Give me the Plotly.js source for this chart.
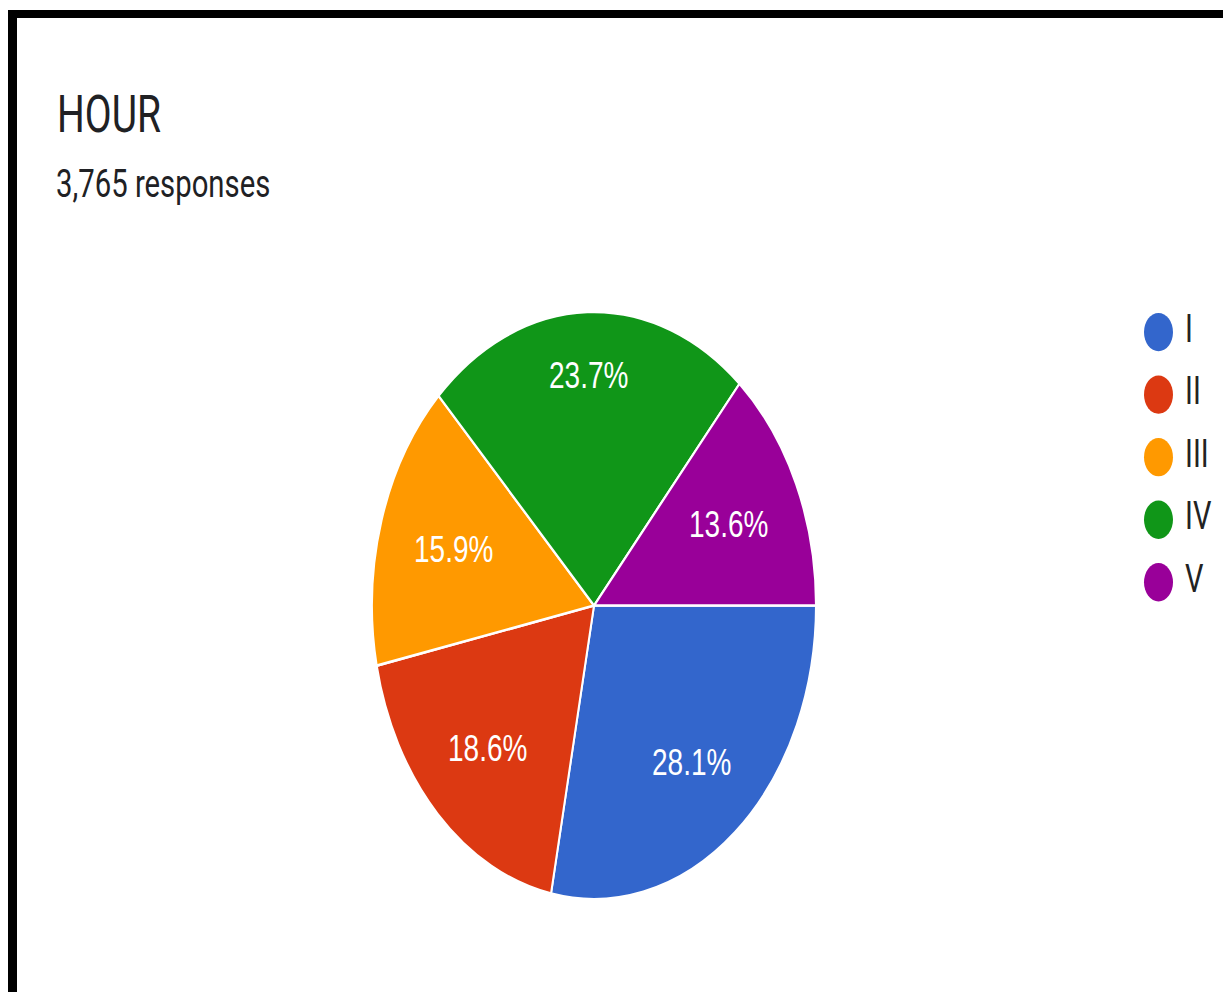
<!DOCTYPE html>
<html>
<head>
<meta charset="utf-8">
<script src="https://cdn.plot.ly/plotly-3.0.1.min.js"></script>
<style>
  html, body { margin: 0; padding: 0; background: #ffffff; width: 1223px; height: 992px; overflow: hidden; }
  #frameTop { position: absolute; left: 8px; top: 10px; width: 1215px; height: 8px; background: #000; }
  #frameLeft { position: absolute; left: 8px; top: 10px; width: 9px; height: 982px; background: #000; }
  #chart { position: absolute; left: 0; top: 0; width: 1223px; height: 750px;
           transform: scaleY(1.3227); transform-origin: 0 0; }
</style>
</head>
<body>
<div id="chart"></div>
<div id="frameTop"></div>
<div id="frameLeft"></div>
<script>
// ---- data ----
const categories = ["I", "II", "III", "IV", "V"];
const responses = [1058, 701, 600, 893, 513];   // total 3,765
const sliceColors = ["#3366cc", "#dc3912", "#ff9900", "#109618", "#990099"];
const chartTitle = "HOUR";
const subtitle = "3,765 responses";

const W = 1223, H = 750;

// pie placement (pixels in the unscaled chart)
const pieCx = 594, pieCy = 457.8, pieR = 222;

const pie = {
  type: "pie",
  labels: categories,
  values: responses,
  sort: false,
  direction: "clockwise",
  rotation: 90,
  marker: { colors: sliceColors, line: { color: "#ffffff", width: 2 } },
  textinfo: "none",
  domain: { x: [(pieCx - pieR) / W, (pieCx + pieR) / W],
            y: [1 - (pieCy + pieR) / H, 1 - (pieCy - pieR) / H] },
  showlegend: false,
  hoverinfo: "label+value+percent"
};

// slice labels, placed Google-Charts style: the label box's outer edge
// sits at a fixed distance from the centre along the slice's mid-angle
const total = responses.reduce((a, b) => a + b, 0);
const labelFont = { family: "Liberation Sans, Arial, sans-serif", size: 28, color: "#ffffff" };
const boxW = 81, boxH = 28, outerR = 0.856 * pieR;
let cum = 0;
const sliceLabels = responses.map((v) => {
  const mid = 2 * Math.PI * (cum + v / 2) / total;
  cum += v;
  const c = Math.cos(mid), s = Math.sin(mid);
  const d = outerR - (boxW / 2 * Math.abs(c) + boxH / 2 * Math.abs(s));
  const px = pieCx + d * c, py = pieCy + d * s;
  return {
    text: (v / total * 100).toFixed(1) + "%",
    xref: "paper", yref: "paper", x: px / W, y: 1 - py / H,
    xanchor: "center", yanchor: "middle", showarrow: false,
    font: labelFont
  };
});

const legendTrace = {
  type: "scatter",
  mode: "markers+text",
  x: categories.map(() => 0.5),
  y: categories.map((c, i) => i),
  text: categories.map(c => "\u2005" + c),
  textposition: "middle right",
  textfont: { family: "Roboto", size: 29, color: "#222222" },
  marker: { size: 29, color: sliceColors, line: { width: 0 } },
  xaxis: "x", yaxis: "y",
  showlegend: false,
  hoverinfo: "skip",
  cliponaxis: false
};

const legTop = 251.1 - 23.65, legBot = 440.2 + 23.65;

const layout = {
  width: W, height: H,
  margin: { l: 0, r: 0, t: 0, b: 0 },
  paper_bgcolor: "rgba(0,0,0,0)",
  plot_bgcolor: "rgba(0,0,0,0)",
  showlegend: false,
  xaxis: { domain: [1138.5 / W, 1178.5 / W], range: [0, 1], visible: false, fixedrange: true },
  yaxis: { domain: [1 - legBot / H, 1 - legTop / H], range: [4.5, -0.5], visible: false, fixedrange: true },
  annotations: [
    { text: chartTitle, xref: "paper", yref: "paper", x: 55 / W, y: 1 - 87 / H,
      xanchor: "left", yanchor: "middle", showarrow: false,
      font: { family: "Roboto", size: 39, color: "#202124" } },
    { text: subtitle, xref: "paper", yref: "paper", x: 54 / W, y: 1 - 139.5 / H,
      xanchor: "left", yanchor: "middle", showarrow: false,
      font: { family: "Roboto", size: 29.3, color: "#202124" } }
  ].concat(sliceLabels)
};

Plotly.newPlot("chart", [pie, legendTrace], layout, { displayModeBar: false, staticPlot: true });
</script>
</body>
</html>
